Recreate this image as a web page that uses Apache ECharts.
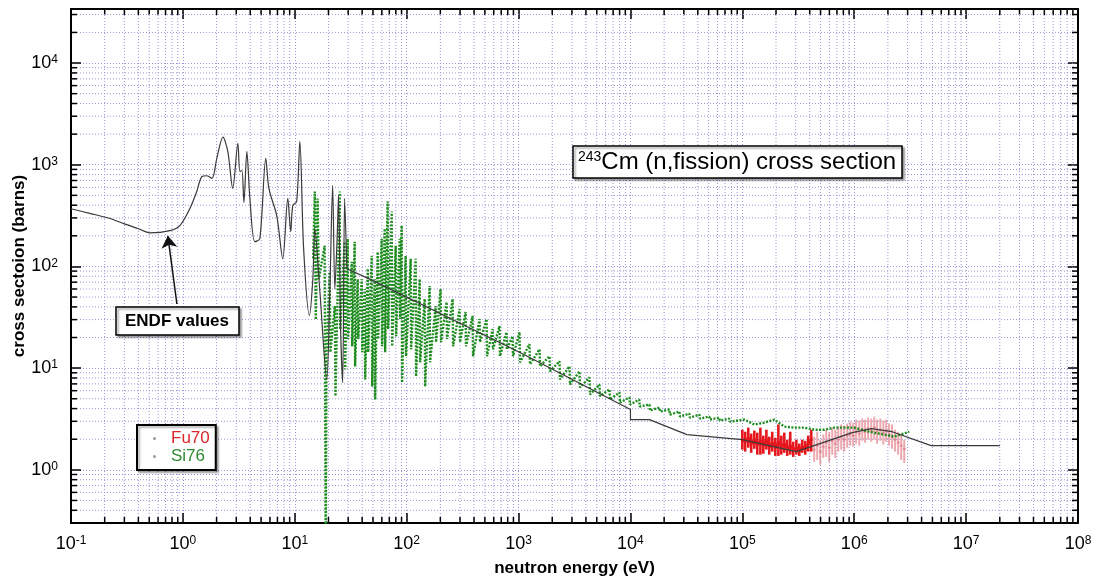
<!DOCTYPE html>
<html>
<head>
<meta charset="utf-8">
<script src="https://cdn.jsdelivr.net/npm/echarts@6/dist/echarts.min.js"></script>
<style>
html, body { margin: 0; padding: 0; background: #fff; }
#chart { width: 1095px; height: 586px; }
</style>
</head>
<body>
<div id="chart"></div>
<script>
// ENDF evaluated curve (eV, barns): resonance region, then smooth region
var endfLowE  = [0.1, 0.15, 0.223, 0.3, 0.4, 0.507, 0.766, 0.94, 1.155, 1.33, 1.48, 1.64, 1.82, 2.01, 2.28, 2.52, 2.79, 3.10, 3.23, 3.37, 3.51, 3.73, 3.97, 4.39, 4.87, 5.51, 5.87, 6.90, 7.81, 8.66, 9.2, 9.6, 10.4, 11.1, 12.0, 13.5, 14.5, 15.1, 16.7, 19.3, 20.5, 21.8, 22.8, 23.9, 24.6, 25.7, 26.8, 27.9, 29.2];
var endfLowXS = [369, 331, 296, 262, 235, 214, 225, 252, 371, 546, 767, 779, 734, 1157, 1866, 1356, 585, 1627, 860, 877, 425, 1356, 466, 175, 187, 1157, 585, 316, 119, 466, 220, 397, 435, 1700, 149, 33, 75, 235, 60, 7.75, 48, 626, 60, 187, 499, 24, 7.2, 466, 95];
var endfHighE  = [29.2, 46.8, 1020, 1e4, 1e4, 1.48e4, 3.2e4, 1e5, 3.03e5, 9.6e5, 1.42e6, 2.18e6, 4.87e6, 2e7];
var endfHighXS = [95, 75, 14.3, 3.92, 3.12, 3.12, 2.22, 1.98, 1.51, 2.32, 2.54, 2.37, 1.73, 1.73];

// Si76 measurement, read as top/bottom of each streak
var siE = [14.6, 15.1, 15.4, 16.0, 16.4, 18.5, 18.9, 19.2, 20.5, 20.8, 22.8, 23.1, 25.2, 25.5, 27.9, 28.2, 29.7, 30.0, 32.3, 32.6, 34.3, 34.6, 36.5, 36.9, 39.7, 40.1, 42.2, 42.6, 44.9, 45.3, 48.7, 49.2, 51.8, 52.3, 55.1, 55.6, 59.8, 60.3, 63.6, 64.2, 67.6, 68.3, 73.5, 74.2, 79.8, 80.5, 86.6, 87.4, 90.2, 91.0, 97.9, 98.8, 108.6, 109.6, 120.3, 121.4, 130.7, 131.9, 144.9, 146.2, 160.4, 161.9, 181.5, 183.1, 201, 203, 227.5, 229.5, 257.6, 260, 297, 300, 336, 339, 388, 392, 448, 452, 518, 523, 586, 591, 676, 682, 781, 788, 884, 892, 1020, 1030, 1253, 1265, 1540, 1555, 1891, 1910, 2323, 2345, 2853, 2880, 3505, 3540, 4305, 4350, 5288, 5340, 6494, 6560, 7977, 8060, 9800, 9900, 1.2e4, 1.21e4, 1.48e4, 1.49e4, 1.82e4, 1.84e4, 2.23e4, 2.25e4, 2.74e4, 2.77e4, 3.36e4, 3.39e4, 4.13e4, 4.17e4, 5.07e4, 5.12e4, 6.23e4, 6.29e4, 7.65e4, 7.73e4, 1.04e5, 1.28e5, 1.57e5, 1.93e5, 2.37e5, 2.91e5, 3.58e5, 4.39e5, 5.4e5, 6.63e5, 8.14e5, 1.0e6, 1.36e6, 1.85e6, 2.28e6, 3.1e6];
var siXS = [120, 546, 30, 466, 75, 160, 0.1, 14.3, 88, 14.3, 40.8, 5.3, 546, 24, 175, 9.7, 187, 19.3, 111, 16.4, 175, 10.4, 75, 19.3, 75, 14.3, 60, 7.75, 95, 14.3, 127, 6.6, 75, 4.9, 139, 19.3, 187, 16.4, 235, 14.3, 435, 24.2, 347, 16.4, 160, 20.6, 187, 30.4, 252, 7.2, 127, 13.1, 119, 15.3, 119, 8.3, 75, 11.4, 47.9, 6.6, 64.3, 11.4, 40.8, 18.0, 60, 18.0, 44.7, 19.3, 47.9, 16.4, 38.1, 18.0, 35.6, 16.4, 32.5, 13.1, 30.4, 18.0, 30.4, 13.1, 24.2, 15.3, 25.9, 13.1, 22.6, 15.3, 20.6, 13.1, 22.6, 11.4, 17.2, 10.9, 15.3, 10.4, 13.1, 9.3, 11.7, 7.75, 10.4, 6.9, 9.3, 6.46, 8.1, 5.5, 6.9, 5.3, 6.2, 4.9, 5.77, 4.59, 5.15, 4.39, 4.9, 4.19, 4.39, 3.83, 4.10, 3.74, 3.92, 3.49, 3.74, 3.34, 3.57, 3.26, 3.49, 3.19, 3.34, 3.12, 3.26, 3.05, 3.19, 2.98, 3.12, 2.79, 2.91, 3.12, 2.66, 2.60, 2.60, 2.48, 2.48, 2.60, 2.60, 2.60, 2.37, 2.22, 2.12, 2.37];

// Fu70 measurement with error bars (value, low, high)
var fuE  = [1.00e5, 1.06e5, 1.13e5, 1.20e5, 1.28e5, 1.36e5, 1.45e5, 1.54e5, 1.64e5, 1.74e5, 1.85e5, 1.97e5, 2.10e5, 2.23e5, 2.37e5, 2.52e5, 2.68e5, 2.85e5, 3.04e5, 3.23e5, 3.43e5, 3.65e5, 3.88e5, 4.13e5];
var fuXS = [1.98, 1.89, 2.07, 1.81, 1.98, 1.77, 1.93, 1.73, 1.98, 1.69, 1.85, 1.65, 1.89, 1.69, 1.81, 1.61, 1.73, 1.58, 1.65, 1.54, 1.69, 1.61, 1.81, 1.98];
var fuLo = [1.58, 1.51, 1.65, 1.47, 1.61, 1.41, 1.41, 1.44, 1.58, 1.41, 1.51, 1.37, 1.37, 1.41, 1.47, 1.37, 1.41, 1.34, 1.41, 1.37, 1.47, 1.41, 1.51, 1.51];
var fuHi = [2.48, 2.37, 2.60, 2.27, 2.43, 2.32, 2.60, 2.17, 2.48, 2.12, 2.37, 2.07, 2.79, 2.17, 2.32, 1.98, 2.37, 1.89, 1.98, 1.81, 1.98, 1.93, 2.17, 2.48];
var fuHighE  = [4.39e5, 4.67e5, 4.97e5, 5.29e5, 5.62e5, 5.98e5, 6.36e5, 6.77e5, 7.20e5, 7.65e5, 8.14e5, 8.66e5, 9.21e5, 9.79e5, 1.04e6, 1.11e6, 1.18e6, 1.25e6, 1.33e6, 1.42e6, 1.51e6, 1.60e6, 1.71e6, 1.82e6, 1.93e6, 2.05e6, 2.18e6, 2.32e6, 2.47e6, 2.63e6, 2.80e6];
var fuHighXS = [1.58, 1.73, 1.51, 1.69, 1.85, 1.65, 1.93, 1.81, 1.98, 2.12, 1.98, 2.17, 2.27, 2.17, 2.37, 2.27, 2.48, 2.37, 2.54, 2.43, 2.60, 2.37, 2.48, 2.32, 2.43, 2.22, 2.12, 1.98, 1.85, 1.73, 1.61];
var fuHighLo = [1.20, 1.25, 1.12, 1.31, 1.34, 1.20, 1.41, 1.31, 1.51, 1.58, 1.51, 1.65, 1.73, 1.69, 1.81, 1.73, 1.93, 1.85, 1.98, 1.89, 1.98, 1.81, 1.93, 1.77, 1.89, 1.73, 1.61, 1.51, 1.41, 1.25, 1.17];
var fuHighHi = [2.12, 2.37, 1.98, 2.22, 2.48, 2.32, 2.60, 2.48, 2.66, 2.79, 2.72, 2.85, 2.98, 2.91, 3.12, 3.05, 3.19, 3.12, 3.26, 3.19, 3.34, 3.12, 3.19, 3.05, 3.12, 2.85, 2.79, 2.48, 2.37, 2.17, 1.98];

// axis ranges and minor tick steps
var xRange = [0.1, 1e8];
var yRange = [0.3, 3.4e4];
var minorSteps = [2, 3, 4, 5, 6, 7, 8, 9];

var FONT = '"Liberation Sans", Arial, Helvetica, sans-serif';
var GRID_COLOR = '#9797d6';

function pairs(a, b) {
  return a.map(function (v, i) { return [v, b[i]]; });
}
function rows(e, v, lo, hi) {
  return e.map(function (x, i) { return [x, v[i], lo[i], hi[i]]; });
}
function minorValues(r) {
  var out = [];
  for (var e = Math.floor(Math.log10(r[0])); e < Math.ceil(Math.log10(r[1])); e++) {
    minorSteps.forEach(function (m) {
      var v = m * Math.pow(10, e);
      if (v > r[0] * 1.0001 && v < r[1] * 0.9999) out.push(v);
    });
  }
  return out;
}
function powLabel(v) {
  var l = Math.log10(v), e = Math.round(l);
  if (Math.abs(l - e) > 1e-6) return '';
  return '{b|10}{s|' + e + '}';
}
var labelRich = {
  b: { fontSize: 18, fontFamily: FONT, color: '#000' },
  s: { fontSize: 12, fontFamily: FONT, color: '#000', verticalAlign: 'top' }
};

function minorX(params, api) {
  var cs = params.coordSys;
  var x = api.coord([api.value(0), 1])[0];
  var b = cs.y + cs.height;
  return { type: 'group', children: [
    { type: 'line', shape: { x1: x, y1: cs.y, x2: x, y2: b }, style: { stroke: GRID_COLOR, lineWidth: 1, lineDash: [1, 2] } },
    { type: 'line', shape: { x1: x, y1: b, x2: x, y2: b - 6 }, style: { stroke: '#000', lineWidth: 1.5 } },
    { type: 'line', shape: { x1: x, y1: cs.y, x2: x, y2: cs.y + 6 }, style: { stroke: '#000', lineWidth: 1.5 } }
  ]};
}
function minorY(params, api) {
  var cs = params.coordSys;
  var y = api.coord([1, api.value(1)])[1];
  var r = cs.x + cs.width;
  return { type: 'group', children: [
    { type: 'line', shape: { x1: cs.x, y1: y, x2: r, y2: y }, style: { stroke: GRID_COLOR, lineWidth: 1, lineDash: [1, 2] } },
    { type: 'line', shape: { x1: cs.x, y1: y, x2: cs.x + 6, y2: y }, style: { stroke: '#000', lineWidth: 1.5 } },
    { type: 'line', shape: { x1: r, y1: y, x2: r - 6, y2: y }, style: { stroke: '#000', lineWidth: 1.5 } }
  ]};
}
function errorBar(width) {
  return function (params, api) {
    var p = api.coord([api.value(0), api.value(1)]);
    var lo = api.coord([api.value(0), api.value(2)]);
    var hi = api.coord([api.value(0), api.value(3)]);
    var c = api.style().fill;
    return { type: 'group', children: [
      { type: 'line', shape: { x1: p[0], y1: lo[1], x2: p[0], y2: hi[1] }, style: { stroke: c, lineWidth: width } },
      { type: 'line', shape: { x1: p[0] - 1.5, y1: p[1], x2: p[0] + 1.5, y2: p[1] }, style: { stroke: c, lineWidth: 2 } }
    ]};
  };
}

var chart = echarts.init(document.getElementById('chart'));

var axisLineStyle = { color: '#000', width: 2 };
var majorTick = { show: true, inside: true, length: 10, lineStyle: { color: '#000', width: 1.5 } };
var splitStyle = { show: true, lineStyle: { color: GRID_COLOR, width: 1, type: [1, 2] } };
var endfLine = { color: '#3a3a3a', width: 1.2 };

chart.setOption({
  backgroundColor: '#fff',
  animation: false,
  title: [
    {
      text: '{s|243}{m|Cm (n,fission) cross section}',
      left: 573, top: 146,
      padding: [4, 6, 4, 5],
      borderColor: '#000', borderWidth: 1.5,
      backgroundColor: '#fff',
      shadowColor: 'rgba(0,0,0,0.35)', shadowOffsetX: 2, shadowOffsetY: 2, shadowBlur: 2,
      textStyle: { fontWeight: 'normal', rich: {
        s: { fontSize: 14, fontFamily: FONT, color: '#000', fontWeight: 'normal', verticalAlign: 'top' },
        m: { fontSize: 24, fontFamily: FONT, color: '#000', fontWeight: 'normal' }
      } }
    },
    {
      text: 'ENDF values',
      left: 116, top: 307,
      padding: [6, 10, 5, 9],
      borderColor: '#000', borderWidth: 1.5,
      backgroundColor: '#fff',
      shadowColor: 'rgba(0,0,0,0.35)', shadowOffsetX: 2, shadowOffsetY: 2, shadowBlur: 2,
      textStyle: { fontSize: 17, fontWeight: 'bold', fontFamily: FONT, color: '#000' }
    }
  ],
  legend: {
    orient: 'vertical',
    left: 137, top: 425,
    padding: [5, 6, 5, 16],
    itemGap: 1,
    itemWidth: 3, itemHeight: 3,
    icon: 'circle',
    borderColor: '#000', borderWidth: 2,
    backgroundColor: '#fff',
    shadowColor: 'rgba(0,0,0,0.3)', shadowOffsetX: 2, shadowOffsetY: 2, shadowBlur: 2,
    textStyle: { fontSize: 17, fontFamily: FONT, padding: [0, 0, 0, 10] },
    data: [
      { name: 'Fu70', itemStyle: { color: '#999' }, textStyle: { color: '#d9262b' } },
      { name: 'Si76', itemStyle: { color: '#999' }, textStyle: { color: '#2f8a32' } }
    ]
  },
  grid: { left: 71, right: 17, top: 9, bottom: 63, outerBoundsMode: 'none' },
  xAxis: [
    {
      type: 'log', logBase: 10, min: xRange[0], max: xRange[1],
      name: 'neutron energy (eV)', nameLocation: 'middle', nameGap: 37, nameMoveOverlap: false,
      nameTextStyle: { fontSize: 17, fontWeight: 'bold', fontFamily: FONT, color: '#000' },
      axisLine: { onZero: false, lineStyle: axisLineStyle },
      axisTick: majorTick,
      axisLabel: { margin: 12, formatter: powLabel, rich: labelRich },
      splitLine: splitStyle
    },
    {
      type: 'log', logBase: 10, min: xRange[0], max: xRange[1], position: 'top',
      axisLine: { onZero: false, lineStyle: axisLineStyle },
      axisTick: majorTick, axisLabel: { show: false }, splitLine: { show: false }
    }
  ],
  yAxis: [
    {
      type: 'log', logBase: 10, min: yRange[0], max: yRange[1],
      name: 'cross sectoion (barns)', nameLocation: 'middle', nameGap: 43, nameMoveOverlap: false,
      nameTextStyle: { fontSize: 17, fontWeight: 'bold', fontFamily: FONT, color: '#000' },
      axisLine: { onZero: false, lineStyle: axisLineStyle },
      axisTick: majorTick,
      axisLabel: { margin: 13, formatter: powLabel, rich: labelRich },
      splitLine: splitStyle
    },
    {
      type: 'log', logBase: 10, min: yRange[0], max: yRange[1], position: 'right',
      axisLine: { onZero: false, lineStyle: axisLineStyle },
      axisTick: majorTick, axisLabel: { show: false }, splitLine: { show: false }
    }
  ],
  series: [
    {
      name: 'minorX', type: 'custom', silent: true, z: 1,
      renderItem: minorX,
      data: minorValues(xRange).map(function (v) { return [v, 1]; })
    },
    {
      name: 'minorY', type: 'custom', silent: true, z: 1,
      renderItem: minorY,
      data: minorValues(yRange).map(function (v) { return [1, v]; })
    },
    {
      name: 'Fu70', type: 'custom', z: 3,
      itemStyle: { color: '#e5171d' },
      renderItem: errorBar(2.6),
      data: rows(fuE, fuXS, fuLo, fuHi)
    },
    {
      name: 'Fu70', type: 'line', z: 3, showSymbol: false,
      lineStyle: { color: '#e5171d', width: 2.5 },
      itemStyle: { color: '#e5171d' },
      data: pairs(fuE, fuXS)
    },
    {
      name: 'Fu70', type: 'custom', z: 3,
      itemStyle: { color: 'rgba(222,110,120,0.6)' },
      renderItem: errorBar(2),
      data: rows(fuHighE, fuHighXS, fuHighLo, fuHighHi)
    },
    {
      name: 'Si76', type: 'line', z: 4, showSymbol: false,
      lineStyle: { color: '#1e8c1e', width: 2.4, type: [2, 1.5] },
      itemStyle: { color: '#1e8c1e' },
      data: pairs(siE, siXS)
    },
    {
      name: 'ENDF', type: 'line', z: 5, showSymbol: false,
      lineStyle: endfLine, itemStyle: { color: '#3a3a3a' },
      data: pairs(endfHighE, endfHighXS)
    },
    {
      name: 'ENDF', type: 'line', z: 5, showSymbol: false, smooth: 0.3,
      lineStyle: endfLine, itemStyle: { color: '#3a3a3a' },
      data: pairs(endfLowE, endfLowXS),
      markLine: {
        silent: true,
        symbol: ['none', 'arrow'],
        symbolSize: 12,
        label: { show: false },
        lineStyle: { color: '#111', width: 1.5, type: 'solid' },
        data: [[{ coord: [0.884, 42.7] }, { coord: [0.734, 200] }]]
      }
    }
  ]
});
</script>
</body>
</html>
